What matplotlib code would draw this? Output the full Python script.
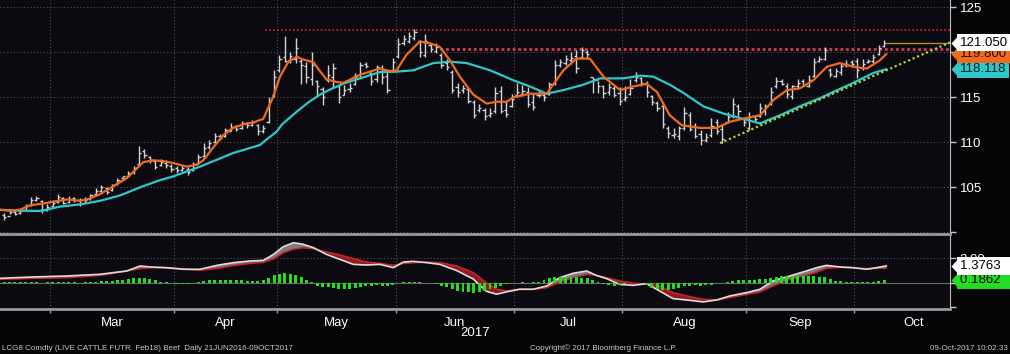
#!/usr/bin/env python3
"""LCG8 live cattle futures, daily bars with moving averages and MACD panel."""

import matplotlib
matplotlib.use('Agg')
import matplotlib.pyplot as plt
import matplotlib.transforms as mtransforms
from matplotlib.path import Path
import numpy as np
import pandas as pd

plt.rcParams['font.family'] = ['Liberation Sans', 'DejaVu Sans']

# ── trading calendar (CME holidays in the window) ──
FIRST_DAY = '2017-02-15'
HOLIDAYS = ['2017-02-20', '2017-04-14', '2017-05-29', '2017-07-04', '2017-09-04', '2017-11-23']

# ── daily bars, one per trading day from 15 Feb to 09 Oct 2017 ──
open_ = [101.9, 101.8, 102.3, 102.1, 102.5, 103.0, 103.6, 103.5, 102.5, 102.9,
         103.4, 103.8, 103.4, 103.8, 103.6, 103.3, 103.7, 104.2, 104.6, 104.9,
         104.7, 105.4, 106.0, 106.2, 106.7, 107.6, 109.0, 108.4, 107.9, 107.5,
         107.7, 107.4, 107.1, 106.9, 107.0, 106.9, 107.7, 108.5, 109.5, 110.0,
         110.7, 110.7, 111.3, 111.8, 111.6, 112.1, 111.9, 111.9, 111.2, 112.3,
         115.2, 118.0, 119.5, 119.1, 119.3, 119.0, 118.5, 117.0, 116.8, 115.9,
         116.9, 117.3, 116.2, 115.3, 115.9, 116.5, 117.5, 118.7, 117.7, 117.0,
         118.3, 117.4, 118.0, 119.6, 121.0, 121.3, 121.6, 121.2, 119.7, 120.8,
         120.1, 119.7, 118.8, 117.8, 116.1, 115.8, 115.9, 114.5, 113.6, 113.6,
         113.0, 113.5, 115.7, 113.6, 114.0, 115.2, 115.4, 115.6, 114.5, 115.2,
         115.3, 115.4, 116.6, 118.6, 118.8, 119.1, 119.6, 119.5, 120.0, 117.2,
         116.9, 116.2, 115.6, 116.0, 115.5, 114.8, 115.4, 116.9, 117.1, 116.5,
         115.1, 114.4, 114.0, 111.6, 110.8, 110.7, 111.6, 113.0, 111.8, 110.9,
         110.2, 110.8, 112.2, 111.5, 112.2, 112.9, 114.0, 112.6, 111.6, 112.9,
         112.9, 113.5, 114.2, 116.2, 116.8, 116.3, 115.1, 116.2, 116.8, 116.3,
         117.4, 119.0, 119.3, 118.0, 117.4, 117.8, 118.6, 118.9, 119.0, 118.2,
         118.9, 119.0, 119.8, 120.7]
high = [102.1, 102.5, 102.5, 102.6, 103.1, 103.9, 104.0, 103.6, 103.1, 103.6,
        104.2, 103.9, 104.0, 103.9, 103.8, 103.9, 104.3, 104.9, 105.2, 105.0,
        105.4, 106.0, 106.3, 106.8, 107.4, 109.6, 109.2, 108.5, 108.0, 108.1,
        108.0, 107.6, 107.4, 107.5, 107.2, 107.8, 108.7, 109.9, 110.2, 111.0,
        110.9, 111.6, 112.1, 111.9, 112.4, 112.3, 112.5, 112.0, 111.9, 115.0,
        118.0, 119.7, 121.8, 120.0, 121.6, 119.2, 118.9, 120.0, 116.9, 116.1,
        118.6, 118.8, 116.4, 116.4, 116.6, 117.7, 118.9, 118.9, 117.8, 118.6,
        118.6, 117.8, 119.4, 121.6, 121.9, 122.2, 122.6, 121.4, 122.0, 121.0,
        121.0, 119.9, 119.2, 118.0, 116.6, 116.4, 116.1, 114.7, 114.3, 113.8,
        113.8, 116.1, 116.2, 114.7, 115.4, 116.6, 116.4, 116.1, 115.5, 115.8,
        115.6, 116.7, 119.1, 119.2, 119.7, 120.0, 120.3, 120.6, 120.3, 117.3,
        116.8, 116.4, 116.6, 116.2, 116.1, 116.2, 117.0, 117.8, 117.3, 116.8,
        115.3, 114.6, 114.4, 111.8, 111.6, 111.8, 113.9, 113.4, 112.1, 111.4,
        111.0, 112.7, 112.6, 111.9, 113.4, 114.9, 114.3, 112.7, 113.4, 113.0,
        114.4, 114.3, 116.1, 117.3, 117.0, 116.6, 116.4, 117.0, 117.0, 117.5,
        119.4, 119.6, 120.6, 118.3, 118.2, 118.8, 119.1, 119.1, 119.4, 119.2,
        119.2, 119.8, 120.8, 121.4]
low = [101.4, 102.0, 101.9, 102.0, 102.5, 102.9, 103.5, 102.1, 102.4, 102.9,
       103.3, 103.1, 103.3, 103.4, 102.9, 103.3, 103.6, 104.0, 104.5, 104.3,
       104.6, 105.3, 105.9, 106.1, 106.5, 107.5, 108.3, 107.7, 107.0, 107.4,
       107.1, 106.7, 106.6, 106.8, 106.4, 106.8, 107.6, 108.3, 109.2, 109.9,
       110.2, 110.6, 111.2, 111.3, 111.5, 111.6, 111.8, 110.8, 111.0, 112.1,
       115.0, 117.8, 118.9, 118.8, 118.8, 116.5, 116.6, 116.4, 115.0, 114.1,
       116.7, 116.0, 114.4, 115.3, 115.6, 116.4, 117.3, 118.3, 116.4, 116.7,
       116.5, 115.5, 117.8, 119.4, 120.8, 121.0, 121.4, 119.5, 119.5, 120.0,
       119.9, 118.3, 118.0, 115.5, 115.0, 115.5, 114.4, 112.7, 113.4, 112.5,
       112.8, 113.2, 113.2, 112.8, 113.9, 115.0, 115.1, 113.9, 113.6, 115.0,
       114.6, 115.3, 116.4, 118.4, 118.6, 118.7, 117.7, 119.4, 119.3, 115.5,
       115.5, 114.9, 115.2, 115.0, 114.1, 114.6, 115.3, 116.7, 116.3, 115.0,
       114.1, 113.5, 111.6, 110.5, 110.5, 110.3, 111.4, 111.2, 110.5, 109.7,
       110.0, 110.6, 110.9, 109.9, 112.1, 112.7, 112.8, 111.8, 111.4, 112.3,
       112.8, 113.0, 114.1, 116.0, 116.4, 114.9, 114.8, 115.9, 116.2, 116.1,
       117.3, 118.9, 119.1, 117.2, 117.2, 117.5, 118.4, 118.4, 117.1, 118.0,
       118.8, 118.8, 119.7, 120.6]
close = [101.7, 102.3, 102.0, 102.4, 102.9, 103.6, 103.8, 102.5, 102.8, 103.3,
         103.9, 103.3, 103.7, 103.6, 103.2, 103.6, 104.1, 104.6, 105.0, 104.5,
         105.2, 105.8, 106.2, 106.6, 107.1, 108.8, 108.6, 108.0, 107.3, 107.8,
         107.5, 107.0, 106.9, 107.1, 106.7, 107.6, 108.4, 109.4, 109.9, 110.7,
         110.5, 111.4, 111.7, 111.5, 112.1, 111.9, 112.2, 111.2, 111.6, 114.6,
         117.2, 119.2, 119.0, 119.6, 120.5, 118.6, 117.2, 118.6, 116.2, 115.0,
         117.5, 118.2, 115.0, 115.8, 116.0, 117.3, 118.6, 118.5, 116.8, 118.4,
         117.2, 115.8, 118.9, 120.9, 121.5, 121.8, 122.2, 120.0, 121.2, 120.4,
         120.6, 118.6, 118.4, 115.8, 115.6, 116.0, 114.6, 113.0, 113.8, 112.9,
         113.2, 115.5, 113.5, 113.1, 114.8, 115.6, 115.7, 114.3, 113.9, 115.2,
         115.0, 116.5, 118.6, 118.9, 119.3, 119.4, 118.2, 120.2, 119.8, 117.0,
         116.3, 115.5, 116.1, 115.3, 114.6, 115.0, 116.0, 117.3, 116.6, 115.6,
         114.5, 113.8, 112.0, 111.0, 110.9, 111.6, 113.2, 111.5, 110.7, 110.3,
         110.6, 111.8, 111.3, 110.4, 112.8, 114.3, 113.5, 112.2, 112.8, 112.6,
         113.8, 114.0, 115.6, 116.8, 116.5, 115.4, 116.2, 116.6, 116.4, 116.9,
         118.9, 119.2, 120.3, 117.6, 117.9, 118.5, 118.7, 118.7, 118.0, 118.7,
         119.0, 119.5, 120.5, 121.05]

# ── moving averages as drawn (day index, value) ──
fast_days = [-0.7, 1.0, 2.9, 4.8, 7.3, 9.1, 11.6, 14.1, 15.9, 17.8, 20.2, 22.7, 24.6,
             25.8, 27.6, 29.5, 31.3, 33.8, 35.7, 36.9, 38.7, 40.6, 42.4, 44.3, 46.1,
             48.0, 49.8, 51.1, 52.6, 54.2, 55.4, 57.3, 58.5, 59.7, 61.6, 62.8, 65.9,
             69.6, 71.5, 72.7, 74.5, 77.0, 78.9, 80.7, 82.6, 84.4, 86.9, 89.4, 91.2,
             93.1, 94.3, 97.4, 100.5, 103.6, 106.0, 108.5, 111.0, 114.1, 116.5, 119.0,
             120.9, 123.3, 125.5, 128.9, 132.0, 134.5, 137.5, 140.0, 142.5, 145.0,
             147.4, 149.9, 152.4, 154.8, 157.3, 159.8, 162.2, 163.4]
fast_ma = [102.5, 102.4, 102.5, 103.0, 103.2, 103.4, 103.65, 103.5, 103.75, 104.25,
           105.1, 106.0, 107.1, 107.8, 108.0, 107.9, 107.7, 107.3, 107.5, 108.0,
           109.4, 110.8, 111.6, 112.0, 112.2, 112.6, 115.0, 117.3, 118.9, 119.5,
           119.2, 118.9, 117.9, 117.0, 116.7, 116.6, 117.5, 118.2, 117.9, 118.0,
           119.7, 121.2, 121.0, 120.6, 119.1, 117.3, 115.3, 114.3, 114.5, 114.5,
           115.0, 115.4, 115.4, 118.0, 119.3, 119.3, 117.3, 115.8, 116.2, 116.5,
           115.6, 113.0, 111.9, 111.6, 111.6, 112.3, 112.7, 113.0, 114.7, 115.8,
           116.0, 116.9, 118.4, 118.8, 118.4, 118.2, 119.1, 119.8]
slow_days = [-0.7, 2.9, 6.6, 8.5, 10.3, 14.1, 17.8, 21.5, 25.2, 28.9, 31.3, 36.3, 42.4,
             47.4, 48.6, 50.5, 51.5, 54.2, 56.5, 58.5, 60.5, 62.8, 65.9, 69.6, 72.7,
             75.8, 79.5, 82.6, 85.7, 90.0, 94.3, 97.4, 100.5, 103.6, 107.3, 110.4,
             114.7, 117.8, 120.2, 123.3, 125.8, 129.5, 133.2, 137.5, 140.0, 143.7,
             147.4, 151.1, 153.6, 157.3, 161.0, 163.4]
slow_ma = [102.5, 102.4, 102.37, 102.6, 102.85, 103.1, 103.5, 104.1, 105.0, 105.8,
           106.2, 107.3, 108.8, 109.7, 110.3, 111.2, 112.0, 113.4, 114.5, 115.3,
           115.9, 116.5, 117.1, 117.8, 117.85, 118.0, 118.8, 118.96, 118.8, 118.0,
           116.9, 116.2, 115.4, 115.8, 116.4, 117.1, 117.1, 117.4, 117.3, 116.4,
           115.5, 114.0, 113.2, 112.5, 112.1, 113.0, 114.0, 114.9, 115.6, 116.6,
           117.7, 118.118]

# ── chart annotations ──
resist_levels = [122.44, 120.33]
resist_from = [48.3, 80.7]
trend_x = [132.6, 175.2]
trend_y = [109.9, 121.1]

# ── MACD panel (day index, macd, signal) ──
macd_days = [-0.7, 5.4, 11.6, 17.8, 22.7, 25.2, 27.0, 30.1, 33.2, 36.3, 39.4, 42.4,
             45.5, 48.0, 49.9, 51.7, 53.6, 55.4, 57.3, 59.7, 62.2, 64.7, 67.1, 69.6,
             72.1, 74.0, 75.8, 78.3, 80.7, 83.8, 86.9, 89.3, 91.2, 93.0, 95.5, 98.0,
             100.5, 102.9, 105.4, 107.9, 109.7, 111.6, 114.0, 116.5, 119.0, 121.4,
             123.9, 126.4, 129.5, 132.0, 134.4, 137.5, 140.0, 142.4, 145.5, 148.6,
             150.5, 152.3, 154.8, 157.2, 159.7, 161.6, 163.4]
macd = [0.36, 0.47, 0.55, 0.69, 0.96, 1.37, 1.29, 1.23, 1.10, 1.10, 1.42, 1.64,
        1.78, 1.83, 2.32, 2.95, 3.28, 3.15, 2.87, 2.32, 1.91, 1.50, 1.45, 1.50,
        1.23, 1.70, 1.75, 1.64, 1.50, 1.00, 0.30, -0.70, -0.95, -0.76, -0.54, -0.54,
        -0.27, 0.41, 0.77, 0.96, 0.60, 0.33, -0.14, -0.22, -0.08, -0.68,
        -1.31, -1.42, -1.58, -1.42, -1.09, -0.82, -0.54, 0.14, 0.55, 0.96,
        1.23, 1.42, 1.29, 1.23, 1.10, 1.23, 1.3763]
signal = [0.28, 0.36, 0.41, 0.60, 0.95, 1.15, 1.23, 1.23, 1.12, 1.02, 1.17, 1.40,
          1.58, 1.67, 1.95, 2.46, 2.75, 2.87, 2.79, 2.52, 2.27, 1.97, 1.69, 1.58,
          1.42, 1.58, 1.64, 1.69, 1.64, 1.37, 0.82, 0.00, -0.54, -0.68, -0.54, -0.54,
          -0.41, 0.05, 0.41, 0.68, 0.60, 0.41, 0.14, -0.05, -0.14, -0.27,
          -0.82, -1.09, -1.37, -1.42, -1.23, -0.96, -0.76, -0.27, 0.27, 0.60,
          0.87, 1.17, 1.26, 1.23, 1.15, 1.17, 1.19]
hist = [0.05, 0.05, 0.03, 0.05, 0.06, 0.08, 0.05, 0.0, 0.02, 0.03, 0.05, 0.02, 0.03,
        0.02, 0.0, 0.02, 0.05, 0.08,
        0.10, 0.12, 0.15, 0.18, 0.22, 0.30, 0.38,
        0.42, 0.40, 0.30, 0.18,
        0.08, 0.02, -0.03, -0.08,
        -0.12, -0.08, -0.03, 0.05,
        0.12, 0.18, 0.22, 0.25, 0.25, 0.25, 0.22, 0.18, 0.15, 0.12,
        0.10, 0.22, 0.42,
        0.62, 0.75, 0.78, 0.75, 0.65, 0.45,
        0.22, 0.08,
        -0.25, -0.35, -0.38, -0.40, -0.48, -0.52, -0.55, -0.45, -0.35,
        -0.28, -0.25, -0.22, -0.25, -0.28, -0.20, -0.05,
        0.05, 0.08, 0.05, 0.02, 0.0,
        -0.05, -0.12, -0.25, -0.35,
        -0.50, -0.65, -0.75, -0.80, -0.82, -0.78, -0.70, -0.55, -0.40, -0.25, -0.12,
        -0.05, 0.0, 0.02, 0.0, 0.02, 0.05,
        0.20, 0.35, 0.45, 0.50, 0.50, 0.48, 0.45, 0.42, 0.35,
        0.20, 0.02, -0.12, -0.20,
        -0.25, -0.18, -0.08, -0.02, 0.0,
        -0.05, -0.20, -0.40, -0.55,
        -0.62, -0.60, -0.50, -0.40,
        -0.30, -0.25, -0.22, -0.25, -0.22, -0.15,
        -0.05, 0.0, 0.05, 0.12,
        0.20, 0.22, 0.22, 0.25, 0.28, 0.30, 0.40,
        0.50, 0.55, 0.55, 0.52, 0.52, 0.55, 0.58, 0.58, 0.50, 0.45, 0.30,
        0.15, 0.10, 0.08, 0.05,
        0.02, 0.05, 0.03, 0.08, 0.12, 0.1862]

BG = '#0a0a10'
BAR = '#d2d2d2'
ORANGE = '#f06a1e'
CYAN = '#2ec8c8'
GRID = '#505058'
XMIN, XMAX = -0.76, 175.2

n = len(close)
x = np.arange(n)
days = pd.bdate_range(FIRST_DAY, '2017-11-30', freq='C', holidays=HOLIDAYS)
month_start = [i for i in range(1, len(days)) if days[i].month != days[i - 1].month]
bounds = np.array(month_start) - 0.5
centers = (bounds[:-1] + bounds[1:]) / 2
month_names = [days[i].strftime('%b') for i in month_start[:-1]]

fig = plt.figure(figsize=(10.1, 3.54), dpi=100, facecolor='#050508')
ax = fig.add_axes([0, 1 - 234 / 354, 950 / 1010, 234 / 354])
ax2 = fig.add_axes([0, 1 - 309 / 354, 950 / 1010, 73 / 354])

for a in (ax, ax2):
    a.set_facecolor(BG)
    a.set_xlim(XMIN, XMAX)
    for b in bounds:
        if b < XMAX:
            a.axvline(b, color=GRID, lw=0.8, ls=(0, (1, 2)), zorder=0)
    a.spines['left'].set_visible(False)
    a.spines['top'].set_visible(False)
    a.spines['right'].set_color('#bdbdbd')
    a.spines['bottom'].set_color('#9a9a9a')
    a.spines['bottom'].set_linewidth(2)
    a.yaxis.tick_right()
    a.tick_params(axis='y', colors='#c8c8c8', labelcolor='white', labelsize=9.5,
                  length=4, width=1, pad=3)

# ── price panel ──
ax.set_ylim(99.81, 125.81)
ax.set_yticks([100, 105, 110, 115, 120, 125])
ax.set_yticklabels(['', '105', '110', '115', '120', '125'])
ax.grid(axis='y', color=GRID, lw=0.8, ls=(0, (1, 2)), zorder=0)
ax.set_xticks([])

ax.vlines(x, low, high, color=BAR, lw=1, zorder=2)
ax.hlines(open_, x - 0.4, x, color=BAR, lw=1, zorder=2)
ax.hlines(close, x, x + 0.4, color=BAR, lw=1, zorder=2)

ax.plot(slow_days, slow_ma, color=CYAN, lw=1.6, zorder=3)
ax.plot(fast_days, fast_ma, color=ORANGE, lw=1.6, zorder=4)

ax.hlines(resist_levels[0], resist_from[0], XMAX, color='#c8232a', lw=1.3,
          linestyles=(0, (1, 1.2)), zorder=1)
ax.hlines(resist_levels[1], resist_from[1], XMAX, color='#d23c50', lw=2,
          linestyles=(0, (1, 1)), zorder=1)
ax.plot(trend_x, trend_y, color='#a6d43c', lw=1.6, ls=(0, (1, 1.2)), zorder=5)
ax.hlines(close[-1], n - 1 + 0.4, XMAX, color='#b8863c', lw=1, zorder=2)

# ── MACD panel ──
ax2.set_ylim(-2.16, 3.83)
ax2.set_yticks([-2, 0, 2])
ax2.set_yticklabels(['', '', '2.00'])
ax2.axhline(2, color=GRID, lw=0.8, ls=(0, (1, 2)), zorder=0)
ax2.axhline(0, color='#6a6a6a', lw=0.8, zorder=1)
md = np.array(macd)
sg = np.array(signal)
ax2.fill_between(macd_days, md, sg, where=md >= sg, interpolate=True,
                 color='#7c7c7c', lw=0, zorder=2)
ax2.fill_between(macd_days, md, sg, where=md < sg, interpolate=True,
                 color='#8e1b1e', lw=0, zorder=2)
ax2.plot(macd_days, signal, color='#c4242c', lw=1.2, zorder=3)
ax2.plot(macd_days, macd, color='#dcdcdc', lw=1.2, zorder=3)
ax2.bar(x, hist, width=0.55, color='#22dd22', zorder=4)

ax2.set_xticks([b for b in bounds if b < XMAX])
ax2.set_xticklabels([])
ax2.set_xticks(centers, minor=True)
ax2.set_xticklabels(month_names, minor=True)
ax2.tick_params(axis='x', which='major', colors='#9a9a9a', length=3, width=1)
ax2.tick_params(axis='x', which='minor', length=0, labelcolor='white',
                labelsize=9.5, pad=6)


def tag(a, yv, label, fc, tc):
    trans = mtransforms.blended_transform_factory(a.transAxes, a.transData)
    arrow = Path([(0, 0), (0.45, 0.5), (0.45, -0.5), (0, 0)])
    a.plot([1.001], [yv], marker=arrow, ms=13, color=fc, mec='none',
           transform=trans, clip_on=False, zorder=6)
    a.text(1.0105, yv, label, transform=trans, ha='left', va='center',
           fontsize=9.5, color=tc, clip_on=False, zorder=7,
           bbox=dict(boxstyle='square,pad=0.2', fc=fc, ec='none'))


tag(ax, slow_ma[-1], f'{slow_ma[-1]:.3f}', CYAN, '#0a1a30')
tag(ax, fast_ma[-1], f'{fast_ma[-1]:.3f}', ORANGE, '#2a0a00')
tag(ax, close[-1], f'{close[-1]:.3f}', 'white', 'black')
tag(ax2, hist[-1], f'{hist[-1]:.4f}   ', '#22dd22', 'black')
tag(ax2, macd[-1], f'{macd[-1]:.4f}   ', 'white', 'black')

fig.text(475 / 1010, 1 - 333 / 354, '2017', color='white', fontsize=9.5,
         ha='center', va='center')
fig.text(2 / 1010, 1 - 348 / 354,
         'LCG8 Comdty (LIVE CATTLE FUTR  Feb18) Beef  Daily 21JUN2016-09OCT2017',
         color='#c8c8c8', fontsize=5.8, ha='left', va='center')
fig.text(530 / 1010, 1 - 348 / 354, 'Copyright\u00a9 2017 Bloomberg Finance L.P.',
         color='#c8c8c8', fontsize=5.8, ha='left', va='center')
fig.text(1008 / 1010, 1 - 348 / 354, '09-Oct-2017 10:02:33',
         color='#c8c8c8', fontsize=5.8, ha='right', va='center')

fig.savefig('out.png', dpi=100, facecolor=fig.get_facecolor())
